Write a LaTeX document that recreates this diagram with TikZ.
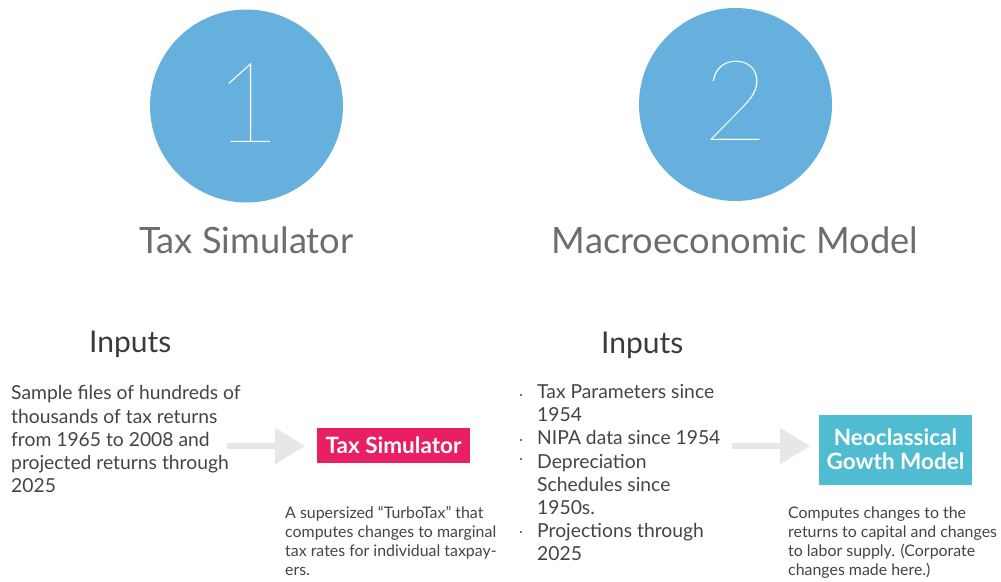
\documentclass[tikz,border=0pt]{standalone}
\usepackage{fontspec}
\usetikzlibrary{arrows.meta}
\setmainfont{Lato}
\newfontfamily\hairline{Lato Hairline}
\begin{document}
\definecolor{circblue}{HTML}{66B0DE}
\definecolor{titlegray}{HTML}{6D6D6D}
\definecolor{bodygray}{HTML}{444444}
\definecolor{arrowgray}{HTML}{E6E7E8}
\definecolor{simpink}{HTML}{E91E63}
\definecolor{growteal}{HTML}{4FBCD2}
\begin{tikzpicture}[x=1pt,y=-1pt,
  stage/.style={circle,fill=circblue,minimum size=193pt,inner sep=0pt},
  bignum/.style={text=white,font=\hairline\fontsize{112}{112}\selectfont,inner sep=0pt},
  title/.style={text=titlegray,font=\fontsize{36.3}{40}\selectfont,anchor=base,inner sep=0pt},
  inputs/.style={text=bodygray!85!black,font=\fontsize{30}{34}\selectfont,anchor=base west,inner sep=0pt},
  body/.style={text=bodygray,font=\fontsize{19.3}{23.1}\selectfont,align=left,anchor=north west,inner sep=0pt},
  caption/.style={text=bodygray,font=\fontsize{15.9}{19}\selectfont,align=left,anchor=north west,inner sep=0pt},
  modelbox/.style={text=white,font=\bfseries\fontsize{22.5}{24}\selectfont,align=center,inner sep=0pt},
  flow/.style={draw=arrowgray,line width=6pt,-{Triangle[length=30pt,width=35pt]},shorten >=0pt},
  bullet/.style={circle,fill=bodygray,inner sep=0pt,minimum size=2.2pt}
]
\useasboundingbox (0,0) rectangle (1001,581);

% stage circles with their numbers
\node[stage] (c1) at (246.5,106) {};
\node[stage] (c2) at (735.5,104.5) {};
\node[bignum] (n1) at (248,103) {1};
\node[bignum] (n2) at (736,101) {2};

% stage titles
\node[title] (t1) at (246.5,253) {Tax Simulator};
\node[title] (t2) at (735,253) {Macroeconomic Model};

% input headings
\node[inputs] (in1) at (89,352) {Inputs};
\node[inputs] (in2) at (601,353) {Inputs};

% left input description
\node[body] (d1) at (11,385.5) {Sample files of hundreds of\\thousands of tax returns\\from 1965 to 2008 and\\projected returns through\\2025};

% right input list
\node[body] (d2) at (537,384.5) {Tax Parameters since\\1954\\NIPA data since 1954\\Depreciation\\Schedules since\\1950s.\\Projections through\\2025};
\node[bullet] (b1) at (521,395) {};
\node[bullet] (b2) at (521,440) {};
\node[bullet] (b3) at (521,459) {};
\node[bullet] (b4) at (521,532) {};

% model boxes
\node[modelbox,fill=simpink,minimum width=153pt,minimum height=35pt] (m1) at (393.5,445) {Tax Simulator};
\node[modelbox,fill=growteal,minimum width=153pt,minimum height=70pt] (m2) at (895.5,449.5) {Neoclassical\\Gowth Model};

% flow arrows
\coordinate (a1s) at (227,446);
\coordinate (a1e) at (305,446);
\coordinate (a2s) at (732,446);
\coordinate (a2e) at (810,446);
\draw[flow] (a1s) -- (a1e);
\draw[flow] (a2s) -- (a2e);

% captions
\node[caption] (cap1) at (285,506.5) {A supersized ``TurboTax'' that\\computes changes to marginal\\tax rates for individual taxpay-\\ers.};
\node[caption] (cap2) at (788,506.5) {Computes changes to the\\returns to capital and changes\\to labor supply. (Corporate\\changes made here.)};
\end{tikzpicture}
\end{document}
